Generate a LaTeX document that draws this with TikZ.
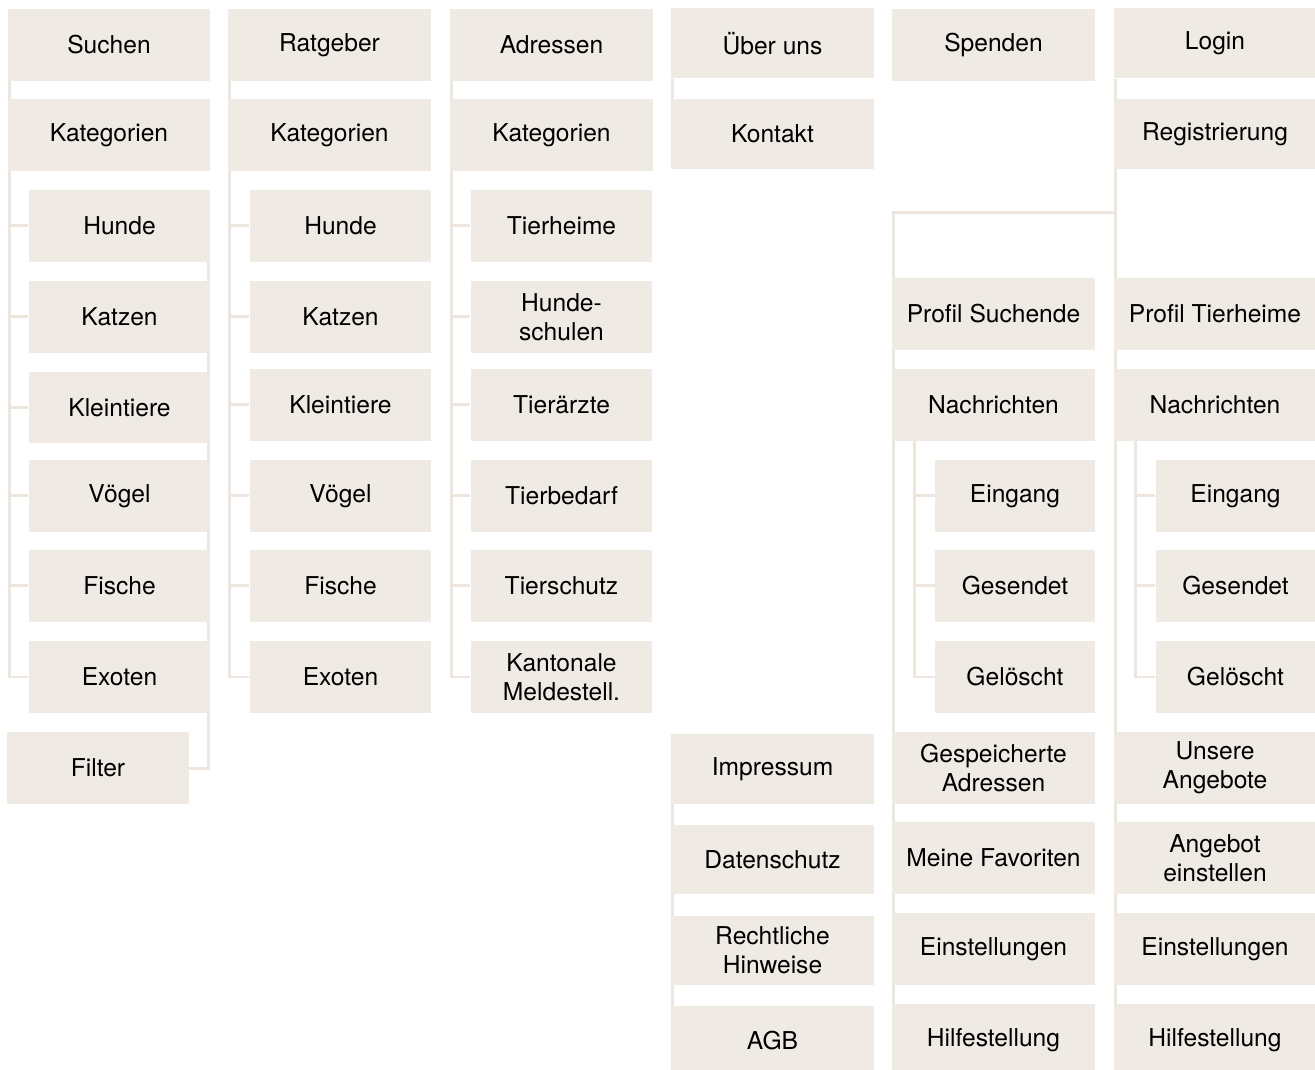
\documentclass[tikz,border=0pt]{standalone}
\usepackage{fontspec}
\setmainfont{TeX Gyre Heros}
\usetikzlibrary{backgrounds}
\definecolor{cardfill}{RGB}{239,234,227}
\definecolor{wirecol}{RGB}{236,230,222}

\begin{document}
\begin{tikzpicture}[x=0.02cm,y=-0.02cm,
  card/.style={fill=cardfill,inner sep=0pt,minimum height=1.44cm,align=center,
    font=\fontsize{14}{16.5}\selectfont},
  top/.style={card,minimum width=4.06cm},
  sub/.style={card,minimum width=3.64cm},
  leaf/.style={card,minimum width=3.2cm},
  low/.style={minimum height=1.4cm},
  wire/.style={draw=wirecol,line width=0.06cm}]
  \useasboundingbox (0,0) rectangle (1315,1070);
  % Suchen
  \node[top] (such) at (109,45) {Suchen};
  \node[top] (kat1) at (109,135.5) {Kategorien};
  \node[sub] (hund1) at (119.5,226) {Hunde};
  \node[sub] (katz1) at (119.5,317) {Katzen};
  \node[sub] (klei1) at (119.5,407.5) {Kleintiere};
  \node[sub] (voeg1) at (119.5,496) {Vögel};
  \node[sub] (fisc1) at (119.5,586) {Fische};
  \node[sub] (exot1) at (119.5,677) {Exoten};
  \node[sub] (filt) at (98,768) {Filter};
  % Ratgeber
  \node[top] (ratg) at (329.5,45) {Ratgeber};
  \node[top] (kat2) at (329.5,135.5) {Kategorien};
  \node[sub] (hund2) at (340.5,226) {Hunde};
  \node[sub] (katz2) at (340.5,317) {Katzen};
  \node[sub] (klei2) at (340.5,405) {Kleintiere};
  \node[sub] (voeg2) at (340.5,496) {Vögel};
  \node[sub] (fisc2) at (340.5,586) {Fische};
  \node[sub] (exot2) at (340.5,677) {Exoten};
  % Adressen
  \node[top] (adre) at (551.5,45) {Adressen};
  \node[top] (kat3) at (551.5,135.5) {Kategorien};
  \node[sub] (thei) at (561.5,226) {Tierheime};
  \node[sub] (hsch) at (561.5,317) {Hunde-\\schulen};
  \node[sub] (taer) at (561.5,405) {Tierärzte};
  \node[sub] (tbed) at (561.5,496) {Tierbedarf};
  \node[sub] (tsch) at (561.5,586) {Tierschutz};
  \node[sub] (kant) at (561.5,677) {Kantonale\\Meldestell.};
  % Ueber uns
  \node[top,low] (ueber) at (772.5,43.5) {Über uns};
  \node[top,low] (kont) at (772.5,134) {Kontakt};
  \node[top,low] (impr) at (772.5,769) {Impressum};
  \node[top,low] (dats) at (772.5,859.5) {Datenschutz};
  \node[top,low] (rech) at (772.5,950.5) {Rechtliche\\Hinweise};
  \node[top,low] (agb) at (772.5,1041) {AGB};
  % Spenden / Profil Suchende
  \node[top] (spen) at (993.5,45) {Spenden};
  \node[top] (prof1) at (993.5,314) {Profil Suchende};
  \node[top] (nach1) at (993.5,405) {Nachrichten};
  \node[leaf] (eing1) at (1015,496) {Eingang};
  \node[leaf] (gese1) at (1015,586) {Gesendet};
  \node[leaf] (gelo1) at (1015,677) {Gelöscht};
  \node[top] (gesp) at (993.5,768) {Gespeicherte\\Adressen};
  \node[top] (favo) at (993.5,858) {Meine Favoriten};
  \node[top] (eins1) at (993.5,949) {Einstellungen};
  \node[top] (hilf1) at (993.5,1040) {Hilfestellung};
  % Login / Profil Tierheime
  \node[top,low] (login) at (1215,43.5) {Login};
  \node[top,low] (regi) at (1215,134) {Registrierung};
  \node[top] (prof2) at (1215,314) {Profil Tierheime};
  \node[top] (nach2) at (1215,405) {Nachrichten};
  \node[leaf] (eing2) at (1235.5,496) {Eingang};
  \node[leaf] (gese2) at (1235.5,586) {Gesendet};
  \node[leaf] (gelo2) at (1235.5,677) {Gelöscht};
  \node[top] (ange) at (1215,768) {Unsere\\Angebote};
  \node[top] (aein) at (1215,858) {Angebot\\einstellen};
  \node[top] (eins2) at (1215,949) {Einstellungen};
  \node[top] (hilf2) at (1215,1040) {Hilfestellung};

  \begin{scope}[on background layer]
    \coordinate (s1) at ([xshift=0.04cm]such.south west);
    \coordinate (s2) at ([xshift=0.04cm]ratg.south west);
    \coordinate (s3) at ([xshift=0.04cm]adre.south west);
    \coordinate (s5) at ([xshift=0.46cm]nach1.south west);
    \coordinate (s6) at ([xshift=0.04cm]login.south west);
    \coordinate (s7) at ([xshift=0.44cm]nach2.south west);
    \draw[wire] (s1) |- (exot1.west);
    \foreach \n in {hund1,katz1,klei1,voeg1,fisc1}
      \draw[wire] (\n.west) -- (\n.west -| s1);
    \draw[wire] ([xshift=-0.04cm]hund1.east) |- (filt.east);
    \draw[wire] (s2) |- (exot2.west);
    \foreach \n in {hund2,katz2,klei2,voeg2,fisc2}
      \draw[wire] (\n.west) -- (\n.west -| s2);
    \draw[wire] (s3) |- (kant.west);
    \foreach \n in {thei,hsch,taer,tbed,tsch}
      \draw[wire] (\n.west) -- (\n.west -| s3);
    \draw[wire] ([xshift=0.04cm]ueber.south west) -- ([xshift=0.04cm]kont.north west);
    \draw[wire] ([xshift=0.04cm]impr.south west) -- ([xshift=0.04cm]agb.north west);
    \draw[wire] (s6) -- (s6 |- hilf2.west);
    \draw[wire] (s6) ++(0,134) -| ([xshift=0.04cm]hilf1.west);
    \draw[wire] (s5) |- (gelo1.west);
    \foreach \n in {eing1,gese1}
      \draw[wire] (\n.west) -- (\n.west -| s5);
    \draw[wire] (s7) |- (gelo2.west);
    \foreach \n in {eing2,gese2}
      \draw[wire] (\n.west) -- (\n.west -| s7);
  \end{scope}
\end{tikzpicture}
\end{document}
